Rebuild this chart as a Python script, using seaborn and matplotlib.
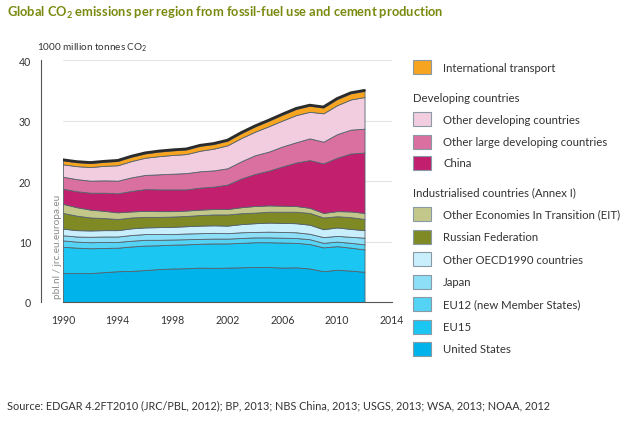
import numpy as np
import pandas as pd
import matplotlib
matplotlib.use('Agg')
import matplotlib.pyplot as plt
import seaborn as sns
from matplotlib.patches import Rectangle

# ============================================================================
# DATA (1000 million tonnes CO2)
# ============================================================================

years = list(range(1990, 2013))

united_states = [4.8, 4.8, 4.8, 4.95, 5.1, 5.15, 5.3, 5.45, 5.55, 5.6, 5.7, 5.65,
                 5.7, 5.75, 5.8, 5.8, 5.7, 5.75, 5.55, 5.1, 5.35, 5.2, 5.0]
eu15 = [4.35, 4.2, 4.1, 4.0, 3.9, 4.05, 4.05, 3.95, 3.95, 3.95, 3.95, 4.05,
        4.0, 4.05, 4.1, 4.1, 4.15, 4.05, 4.05, 3.95, 3.9, 3.8, 3.7]
eu12 = [1.05, 1.0, 1.0, 1.0, 0.95, 0.95, 0.95, 0.9, 0.85, 0.85, 0.8, 0.8,
        0.8, 0.8, 0.8, 0.8, 0.8, 0.8, 0.8, 0.75, 0.75, 0.8, 0.85]
japan = [0.85, 0.85, 0.9, 0.9, 0.9, 0.95, 0.95, 0.95, 0.9, 0.95, 0.95, 0.95,
         0.9, 0.95, 0.9, 0.95, 0.95, 0.95, 0.9, 0.95, 0.95, 1.0, 1.1]
other_oecd = [1.1, 1.05, 1.05, 1.05, 1.05, 1.1, 1.1, 1.15, 1.2, 1.2, 1.25, 1.25,
              1.25, 1.35, 1.45, 1.5, 1.5, 1.5, 1.5, 1.3, 1.4, 1.3, 1.25]
russia = [2.6, 2.4, 2.15, 2.0, 1.85, 1.8, 1.75, 1.7, 1.7, 1.7, 1.75, 1.8,
          1.85, 1.8, 1.75, 1.8, 1.85, 1.9, 1.95, 1.95, 1.85, 1.95, 1.85]
other_eit = [1.5, 1.4, 1.3, 1.2, 1.1, 1.0, 1.0, 0.95, 0.9, 0.9, 0.9, 0.9,
             0.9, 1.0, 1.1, 1.05, 1.0, 0.95, 0.85, 0.75, 0.85, 0.95, 1.0]
china = [2.5, 2.65, 2.8, 3.0, 3.15, 3.4, 3.6, 3.6, 3.6, 3.5, 3.65, 3.7,
         4.05, 4.75, 5.3, 5.75, 6.5, 7.2, 7.9, 8.2, 8.85, 9.6, 10.0]
other_large_dev = [2.0, 2.0, 2.0, 2.05, 2.1, 2.25, 2.35, 2.5, 2.6, 2.7, 2.7, 2.7,
                   2.7, 2.85, 3.1, 3.15, 3.3, 3.35, 3.6, 3.6, 3.9, 3.95, 3.95]
other_dev = [2.05, 2.15, 2.25, 2.4, 2.55, 2.7, 2.85, 3.0, 3.1, 3.15, 3.4, 3.6,
             3.8, 3.85, 3.9, 4.2, 4.3, 4.5, 4.4, 4.7, 4.8, 5.0, 5.25]
intl_transport = [0.65, 0.65, 0.65, 0.65, 0.7, 0.7, 0.7, 0.75, 0.75, 0.75, 0.8, 0.75,
                  0.75, 0.8, 0.85, 0.9, 0.95, 1.0, 1.0, 0.95, 1.0, 1.0, 1.0]

layer_names = ['United States', 'EU15', 'EU12 (new Member States)', 'Japan',
               'Other OECD1990 countries', 'Russian Federation',
               'Other Economies In Transition (EIT)', 'China',
               'Other large developing countries', 'Other developing countries',
               'International transport']
layer_values = [united_states, eu15, eu12, japan, other_oecd, russia, other_eit,
                china, other_large_dev, other_dev, intl_transport]
layer_colors = ['#00b4eb', '#1cc6f2', '#55d3f5', '#8ddff7', '#c8effb',
                '#7f8a25', '#c3c88a', '#c21f6e', '#d9709f', '#f2cde0', '#f7a521']

df = pd.DataFrame(dict(zip(layer_names, layer_values)), index=years)
df['total'] = df[layer_names].sum(axis=1)

# ============================================================================
# STYLE
# ============================================================================

sns.set_style('white')
plt.rcParams['font.family'] = ['Lato', 'DejaVu Sans']
plt.rcParams['mathtext.fontset'] = 'custom'
plt.rcParams['mathtext.rm'] = 'Lato'
plt.rcParams['mathtext.bf'] = 'Lato:bold'

text_col = '#333333'
W, H = 640, 427
fig = plt.figure(figsize=(6.4, 4.27), dpi=100)
ax = fig.add_axes([0.0984, 0.2904, 0.514, 0.5656])

# grid lines
for g in [10, 20, 30, 40]:
    ax.axhline(g, color='#e3e3e3', linewidth=0.8, zorder=0)

ax.stackplot(df.index, [df[n] for n in layer_names], colors=layer_colors,
             edgecolor='#55626c', linewidth=0.6, zorder=2)

# dark outline on top of the stack
sns.lineplot(x=df.index, y=df['total'] + 0.1, color='#2b2b2b', linewidth=2.0,
             ax=ax, zorder=3)

ax.set_xlim(1990, 2014)
ax.set_ylim(0, 40)
ax.set_xticks(range(1990, 2015, 2))
ax.set_xticklabels([str(y) if (y - 1990) % 4 == 0 else '' for y in range(1990, 2015, 2)])
ax.set_yticks([0, 10, 20, 30, 40])
ax.set_xlabel('')
ax.set_ylabel('')

for s in ['top', 'right']:
    ax.spines[s].set_visible(False)
ax.spines['left'].set_position(('outward', 16))
ax.spines['left'].set_color('#555555')
ax.spines['bottom'].set_color('#555555')
ax.spines['left'].set_linewidth(0.8)
ax.spines['bottom'].set_linewidth(0.8)
ax.tick_params(axis='both', colors='#555555', labelcolor=text_col, labelsize=7.6,
               direction='out', length=4, width=0.8)
ax.tick_params(axis='y', pad=3)
ax.tick_params(axis='x', pad=5)

fig.text(37 / W, 1 - 48 / H, '1000 million tonnes CO$_2$',
         fontsize=7.2, color=text_col, ha='left', va='center')

# watermark
fig.text(57 / W, 1 - 247 / H, 'pbl.nl / jrc.eu.europa.eu', rotation=90,
         fontsize=7.2, color='#8a8a8a', ha='center', va='center')

# title
fig.text(7 / W, 1 - 13 / H,
         r'Global CO$_\mathbf{2}$ emissions per region from fossil-fuel use and cement production',
         fontsize=9.3, fontweight='bold', color='#7a8a0f', ha='left', va='center')

# source
fig.text(7 / W, 1 - 406 / H,
         'Source: EDGAR 4.2FT2010 (JRC/PBL, 2012); BP, 2013; NBS China, 2013; '
         'USGS, 2013; WSA, 2013; NOAA, 2012',
         fontsize=7.8, color=text_col, ha='left', va='center')

# ============================================================================
# LEGEND (drawn by hand to match the grouped layout)
# ============================================================================

legend_rows = [
    ('item', 'International transport', '#f7a521', 68),
    ('head', 'Developing countries', None, 98),
    ('item', 'Other developing countries', '#f2cde0', 120),
    ('item', 'Other large developing countries', '#d9709f', 143),
    ('item', 'China', '#c21f6e', 164),
    ('head', 'Industrialised countries (Annex I)', None, 193),
    ('item', 'Other Economies In Transition (EIT)', '#c3c88a', 215),
    ('item', 'Russian Federation', '#7f8a25', 238),
    ('item', 'Other OECD1990 countries', '#c8effb', 260),
    ('item', 'Japan', '#8ddff7', 283),
    ('item', 'EU12 (new Member States)', '#55d3f5', 305),
    ('item', 'EU15', '#1cc6f2', 328),
    ('item', 'United States', '#00b4eb', 350),
]

for kind, label, col, ypix in legend_rows:
    if kind == 'head':
        fig.text(413 / W, 1 - ypix / H, label, fontsize=8.2, color=text_col,
                 ha='left', va='center')
    else:
        fig.patches.append(Rectangle((413 / W, 1 - (ypix + 7) / H), 18 / W, 14 / H,
                                     transform=fig.transFigure, facecolor=col,
                                     edgecolor='#8a9aa4', linewidth=0.8))
        fig.text(443 / W, 1 - ypix / H, label, fontsize=8.2, color=text_col,
                 ha='left', va='center')

fig.savefig('out.png', dpi=100)
